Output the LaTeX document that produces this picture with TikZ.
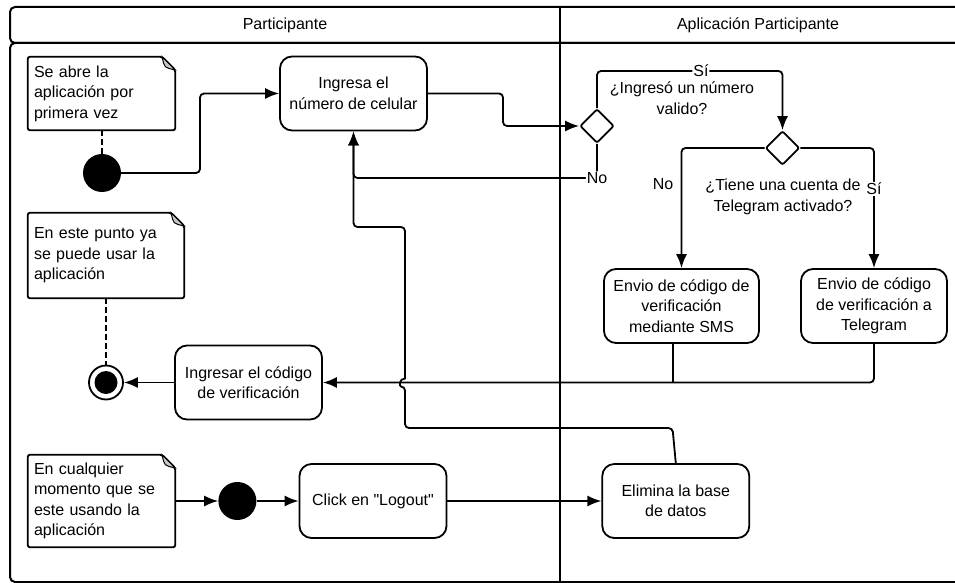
\documentclass[tikz,border=0pt]{standalone}
\usepackage{fontspec}
\setmainfont{Liberation Sans}[Ligatures=TeXOff]
\usepackage{tikz}
\usetikzlibrary{arrows.meta,positioning,shapes.geometric}

\newcommand{\drawnote}[1]{%
  \draw[line width=1.8pt, rounded corners=2pt] (#1.north west) -- ([xshift=-13pt]#1.north east) -- ([yshift=-13pt]#1.north east) -- (#1.south east) -- (#1.south west) -- cycle;
  \filldraw[fill=gray!45, line width=1pt] ([xshift=-13pt]#1.north east) .. controls ([xshift=-11pt,yshift=-11pt]#1.north east) .. ([yshift=-13pt]#1.north east) -- cycle;
}

\begin{document}
\begin{tikzpicture}[
    x=1pt, y=-1pt,
    >={Latex[length=14pt,width=11pt]},
    every node/.style={font=\fontsize{16}{20.5}\selectfont},
    lane/.style={line width=2pt},
    action/.style={rounded corners=12pt, draw, line width=1.8pt, align=center, minimum width=147pt, minimum height=74pt, inner sep=2pt},
    notebox/.style={align=left, minimum width=147pt, minimum height=73pt, inner sep=5pt},
    choice/.style={diamond, draw, line width=1.8pt, rounded corners=2pt, minimum width=34pt, minimum height=34pt, inner sep=0pt},
    startnode/.style={circle, fill, minimum size=38pt, inner sep=0pt},
    endnode/.style={circle, draw, line width=1.8pt, fill=white, minimum size=34pt, inner sep=0pt, path picture={\fill[black] (path picture bounding box.center) circle (11.5pt);}},
    flow/.style={->, line width=1.8pt, rounded corners=4pt},
    link/.style={line width=1.6pt, dash pattern=on 6pt off 3pt},
    tag/.style={fill=white, inner sep=1pt}
]
\useasboundingbox (0,0) rectangle (955,583);

\draw[lane, rounded corners=5pt] (955,7) -- (10,7) -- (10,43) -- (955,43);
\draw[lane, rounded corners=5pt] (955,43) -- (10,43) -- (10,582) -- (955,582);
\draw[lane] (560,7) -- (560,583);
\node (lane1) at (285,25) {Participante};
\node (lane2) at (758,25) {Aplicación Participante};

\node[notebox, text width=135pt] (abre) at (101.5,93.5) {Se abre la\\aplicación por\\primera vez};
\node[startnode] (inicio) at (102,173) {};
\node[action] (ingresa) at (353.5,93.5) {Ingresa el\\número de celular};
\node[choice] (valido) at (597,126) {};
\node[align=center] (q1) at (682,98) {¿Ingresó un número\\valido?};
\node[choice] (telegram) at (782.5,148) {};
\node[align=center] (q2) at (783,197) {¿Tiene una cuenta de\\Telegram activado?};
\node (no2) at (663,184) {No};
\node[action, minimum width=155pt] (sms) at (681.5,306) {Envio de código de\\verificación\\mediante SMS};
\node[action, minimum width=146pt] (envtel) at (874,306) {Envio de código\\de verificación a\\Telegram};
\node[action] (codigo) at (248.5,382.5) {Ingresar el código\\de verificación};
\node[endnode] (fin) at (106,382.5) {};
\node[notebox, text width=144pt, minimum width=156pt, minimum height=85pt] (punto) at (106,255.5) {En este punto ya\\se puede usar la\\aplicación};
\node[notebox, text width=135pt, minimum height=92pt] (cualquier) at (101.5,501) {En cualquier\\momento que se\\este usando la\\aplicación};
\node[startnode, right=43pt of cualquier] (inicio2) {};
\node[action, right=42pt of inicio2] (logout) {Click en "Logout"};
\node[action, right=154pt of logout] (elimina) {Elimina la base\\de datos};

\drawnote{abre}
\drawnote{punto}
\drawnote{cualquier}

\draw[link] (abre.south -| inicio) -- (inicio);
\draw[link] (punto.south) -- (fin);
\draw[flow] (inicio) -- (200,173) |- (ingresa);
\draw[flow] (ingresa) -- (503,93.5) |- (valido);
\draw[flow] (valido.north) -- (597,71) -- node[tag, pos=0.56]{Sí} (782.5,71) -- (telegram.north);
\draw[flow] (valido.south) -- (597,178) node[tag]{No} -| (ingresa.south);
\draw[flow] (telegram.west) -| (sms.north);
\draw[flow] (telegram.east) -| node[tag, pos=0.67]{Sí} (envtel.north);
\draw[flow] (envtel.south) |- (codigo.east);
\draw[line width=1.8pt] ([xshift=-8.5pt]sms.south) -- ([xshift=-8.5pt]sms.south |- codigo.east);
\draw[flow] (codigo) -- (fin);
\draw[flow] (elimina.north) -- (672.5,428) -- (405,428) -- (405,386.5) [sharp corners] .. controls (399,386.5) and (399,378.5) .. (405,378.5) [rounded corners=4pt] -- (405,227) -| (ingresa.south);
\draw[flow] (cualquier) -- (inicio2);
\draw[flow] (inicio2) -- (logout);
\draw[flow] (logout) -- (elimina);

\end{tikzpicture}
\end{document}
